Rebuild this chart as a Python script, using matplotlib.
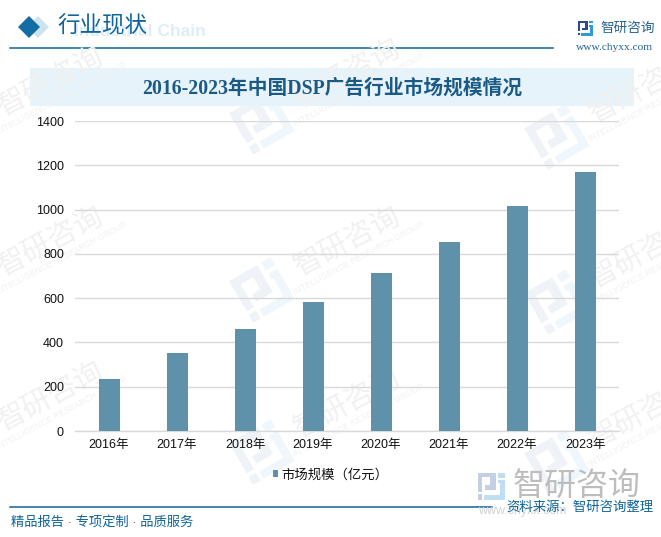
# -*- coding: utf-8 -*-
# 2016-2023 DSP market size bar chart
import matplotlib
matplotlib.use('Agg')
from matplotlib import pyplot as plt
from matplotlib.patches import Polygon, Rectangle
from matplotlib.transforms import Affine2D

plt.rcParams['font.family'] = ['Liberation Sans', 'Noto Sans CJK SC']

W, H = 661, 537

years = ['2016年', '2017年', '2018年', '2019年', '2020年', '2021年', '2022年', '2023年']
market_size = [235, 352, 461, 582, 714, 853, 1016, 1170]
y_ticks = [0, 200, 400, 600, 800, 1000, 1200, 1400]
series_name = '市场规模（亿元）'
title = '2016-2023年中国DSP广告行业市场规模情况'

BLUE = '#10649A'
BAR = '#5F92AA'

fig = plt.figure(figsize=(W / 100, H / 100), dpi=100, facecolor='white')

# background layer in pixel coordinates
bg = fig.add_axes([0, 0, 1, 1])
bg.set_xlim(0, W)
bg.set_ylim(H, 0)
bg.axis('off')


def logo(ax, cx, cy, s, col1, col2, angle=30):
    # company mark, rough bracket shapes
    t = Affine2D().scale(s).rotate_deg(-angle).translate(cx, cy) + ax.transData
    ax.add_patch(Polygon([(-1, -1), (0.35, -1), (0.35, 0.3), (-0.45, 0.3), (-0.45, -0.05), (-0.05, -0.05),
                          (-0.05, -0.65), (-0.65, -0.65), (-0.65, 0.45), (-1, 0.45)],
                         closed=True, fc=col1, ec='none', transform=t))
    ax.add_patch(Rectangle((-1, 0.62), 0.35, 0.38, fc=col1, ec='none', transform=t))
    ax.add_patch(Polygon([(0.55, -0.45), (1, -0.45), (1, 1), (-0.5, 1), (-0.5, 0.65), (0.65, 0.65),
                          (0.65, -0.2), (0.55, -0.2)],
                         closed=True, fc=col2, ec='none', transform=t))
    ax.add_patch(Rectangle((0.55, -1), 0.45, 0.38, fc=col2, ec='none', transform=t))


# repeated watermark
marks = [(262, 122), (557, 137), (262, 290), (557, 302), (262, 452), (557, 462), (-35, 130), (-35, 290), (-35, 445)]
for mx, my in marks:
    logo(bg, mx, my, 24, '#EFF3F7', '#EFF7FC')
    bg.text(mx + 85, my - 48, '智研咨询', fontsize=21, color='#F1F1F1', rotation=28,
            ha='center', va='center', rotation_mode='anchor')
    bg.text(mx + 97, my - 32, 'INTELLIGENCE RESEARCH GROUP', fontsize=6.2, color='#F2F2F2', rotation=28,
            ha='center', va='center', rotation_mode='anchor')

# header
bg.text(74, 32, 'Industrial Chain', fontsize=12.5, color='#DDEEFA', fontweight='bold', va='center')
bg.add_patch(Polygon([(27, 27), (38, 16), (49, 27), (38, 38)], fc='#CFE3EE', ec='none'))
bg.add_patch(Polygon([(18, 27), (29, 16), (40, 27), (29, 38)], fc='#136CA5', ec='none'))
bg.text(57, 27, '行业现状', fontsize=16.2, color=BLUE, va='center', fontweight='medium')
bg.plot([10, 553], [48, 48], color=BLUE, lw=1.1)

logo(bg, 585, 28, 7.5, '#2A4A94', '#2E9AD6', angle=0)
bg.text(600, 28, '智研咨询', fontsize=9.8, color='#25628F', va='center')
bg.text(614.5, 47, 'www.chyxx.com', fontsize=8.2, color='#25628F', va='center', ha='center',
        family=['Liberation Serif'])

# title band
bg.add_patch(Rectangle((30, 68), 604, 38, fc='#E6F3FB', ec='none'))
bg.text(332, 89, title, fontsize=14.2, color='#1A5A85', ha='center', va='center', fontweight='bold',
        family=['Liberation Serif', 'Noto Sans CJK SC'])

# footer
logo(bg, 491, 486, 13.5, '#C4CFE3', '#BFDDF3', angle=0)
bg.text(577, 487, '智研咨询', fontsize=23, color='#BDBDBD', ha='center', va='center')
bg.text(478, 511, 'www.chyxx.com', fontsize=9, color='#D2D2D2', va='center')
bg.plot([10, 492], [507, 507], color=BLUE, lw=1.1)
bg.text(11, 522, '精品报告 · 专项定制 · 品质服务', fontsize=9.55, color=BLUE, va='center')
bg.text(654, 508, '资料来源：智研咨询整理', fontsize=9.65, color=BLUE, va='center', ha='right')

# chart area, 75..619 px across, 121..431 px down
ax = fig.add_axes([75 / W, 1 - 431 / H, 544 / W, 310 / H])
ax.patch.set_alpha(0)
ax.bar(range(len(years)), market_size, width=21 / 68, color=BAR, label=series_name, zorder=3)
ax.set_xlim(-0.5, len(years) - 0.5)
ax.set_ylim(0, 1400)
ax.set_yticks(y_ticks)
ax.set_xticks(range(len(years)))
ax.set_xticklabels(years)
ax.yaxis.grid(True, color='#D9D9D9', lw=1, zorder=0)
ax.set_axisbelow(True)
ax.tick_params(axis='both', length=0, labelsize=9, labelcolor='#111111')
ax.tick_params(axis='y', pad=8)
ax.tick_params(axis='x', pad=6)
for side in ['top', 'right', 'left']:
    ax.spines[side].set_visible(False)
ax.spines['bottom'].set_color('#D9D9D9')
ax.spines['bottom'].set_linewidth(1)

ax.legend(loc='center', bbox_to_anchor=(331 / W, 1 - 475 / H), bbox_transform=fig.transFigure,
          frameon=False, fontsize=9.6, handlelength=0.4, handleheight=0.5, handletextpad=0.25,
          labelcolor='#111111')

fig.savefig('out.png', dpi=100)
